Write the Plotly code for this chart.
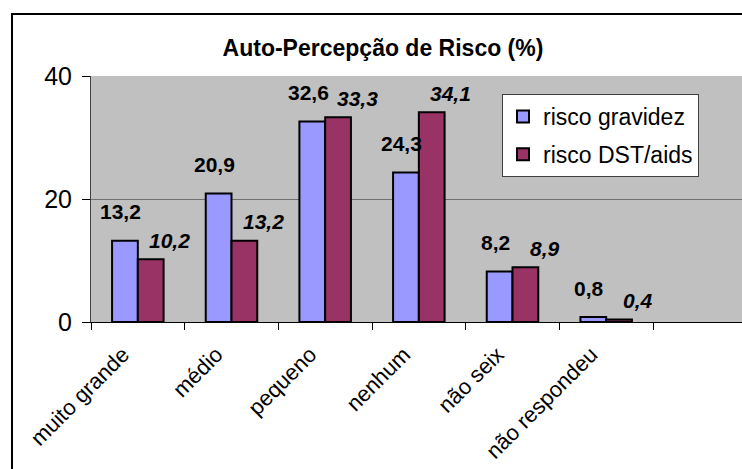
import plotly.graph_objects as go

categorias = ["muito grande", "médio", "pequeno", "nenhum", "não seix", "não respondeu"]
risco_gravidez = [13.2, 20.9, 32.6, 24.3, 8.2, 0.8]
risco_dst = [10.2, 13.2, 33.3, 34.1, 8.9, 0.4]
serie_nomes = ["risco gravidez", "risco DST/aids"]
y_ticks = [0, 20, 40]

FONTE = "Arial, Liberation Sans, sans-serif"
W, H = 742, 469
L, R, T, B = 91, 0, 76, 147

fig = go.Figure()

fig.add_trace(go.Bar(
    x=categorias, y=risco_gravidez, name=serie_nomes[0], legendgroup="a",
    marker=dict(color="#9999FF", line=dict(color="black", width=2)),
    hoverinfo="skip"
))
fig.add_trace(go.Bar(
    x=categorias, y=risco_dst, name=serie_nomes[1], legendgroup="b",
    marker=dict(color="#993366", line=dict(color="black", width=2)),
    hoverinfo="skip"
))

# rótulos de dados (estilo Excel)
def fmt(v):
    return f"{v:.1f}".replace(".", ",")

for i, v in enumerate(risco_gravidez):
    fig.add_annotation(x=i, y=v, text=f"<b>{fmt(v)}</b>", showarrow=False,
                       xshift=-17, yshift=29, yanchor="middle",
                       font=dict(family=FONTE, size=21, color="black"))
for i, v in enumerate(risco_dst):
    fig.add_annotation(x=i, y=v, text=f"<b><i>{fmt(v)}</i></b>", showarrow=False,
                       xshift=32, yshift=19, yanchor="middle",
                       font=dict(family=FONTE, size=21, color="black"))

# moldura externa do gráfico
pw, ph = W - L - R, H - T - B
fig.add_shape(type="rect", xref="paper", yref="paper",
              x0=(12 - L) / pw, x1=(W + 20 - L) / pw,
              y0=-(H + 20 - T - ph) / ph, y1=(H - B - 14) / ph,
              line=dict(color="black", width=2), fillcolor="rgba(0,0,0,0)", layer="above")

fig.update_layout(
    width=W, height=H,
    margin=dict(l=L, r=R, t=T, b=B, autoexpand=False),
    paper_bgcolor="white",
    plot_bgcolor="#C0C0C0",
    barmode="group", bargap=0.45, bargroupgap=0,
    title=dict(text="<b>Auto-Percepção de Risco (%)</b>", x=383 / W, xanchor="center",
               y=1 - 48 / H, yanchor="middle",
               font=dict(family=FONTE, size=23, color="black")),
    legend=dict(x=(502 - L) / pw, y=(H - B - 94) / ph, xanchor="left", yanchor="top",
                bgcolor="white", bordercolor="#404040", borderwidth=1,
                font=dict(family=FONTE, size=23, color="black"),
                itemwidth=30, tracegroupgap=5),
    showlegend=True,
    xaxis=dict(type="category", range=[-0.5, 6.45], tickangle=-45,
               tickson="boundaries", ticks="outside", ticklen=7, tickcolor="black",
               ticklabelstandoff=10, ticklabelshift=-15, automargin=False,
               showline=True, linecolor="black", linewidth=1, showgrid=False,
               tickfont=dict(family=FONTE, size=22, color="black")),
    yaxis=dict(range=[0, 40], tickvals=y_ticks, ticks="outside", ticklen=8,
               tickcolor="black", showline=True, linecolor="#404040", linewidth=1,
               automargin=False, ticklabelstandoff=5,
               showgrid=True, gridcolor="#707070", gridwidth=1, zeroline=False,
               tickfont=dict(family=FONTE, size=25, color="black")),
)

fig.write_html("out.html", config={"displayModeBar": False},
               post_script="document.body.style.margin='0';")
